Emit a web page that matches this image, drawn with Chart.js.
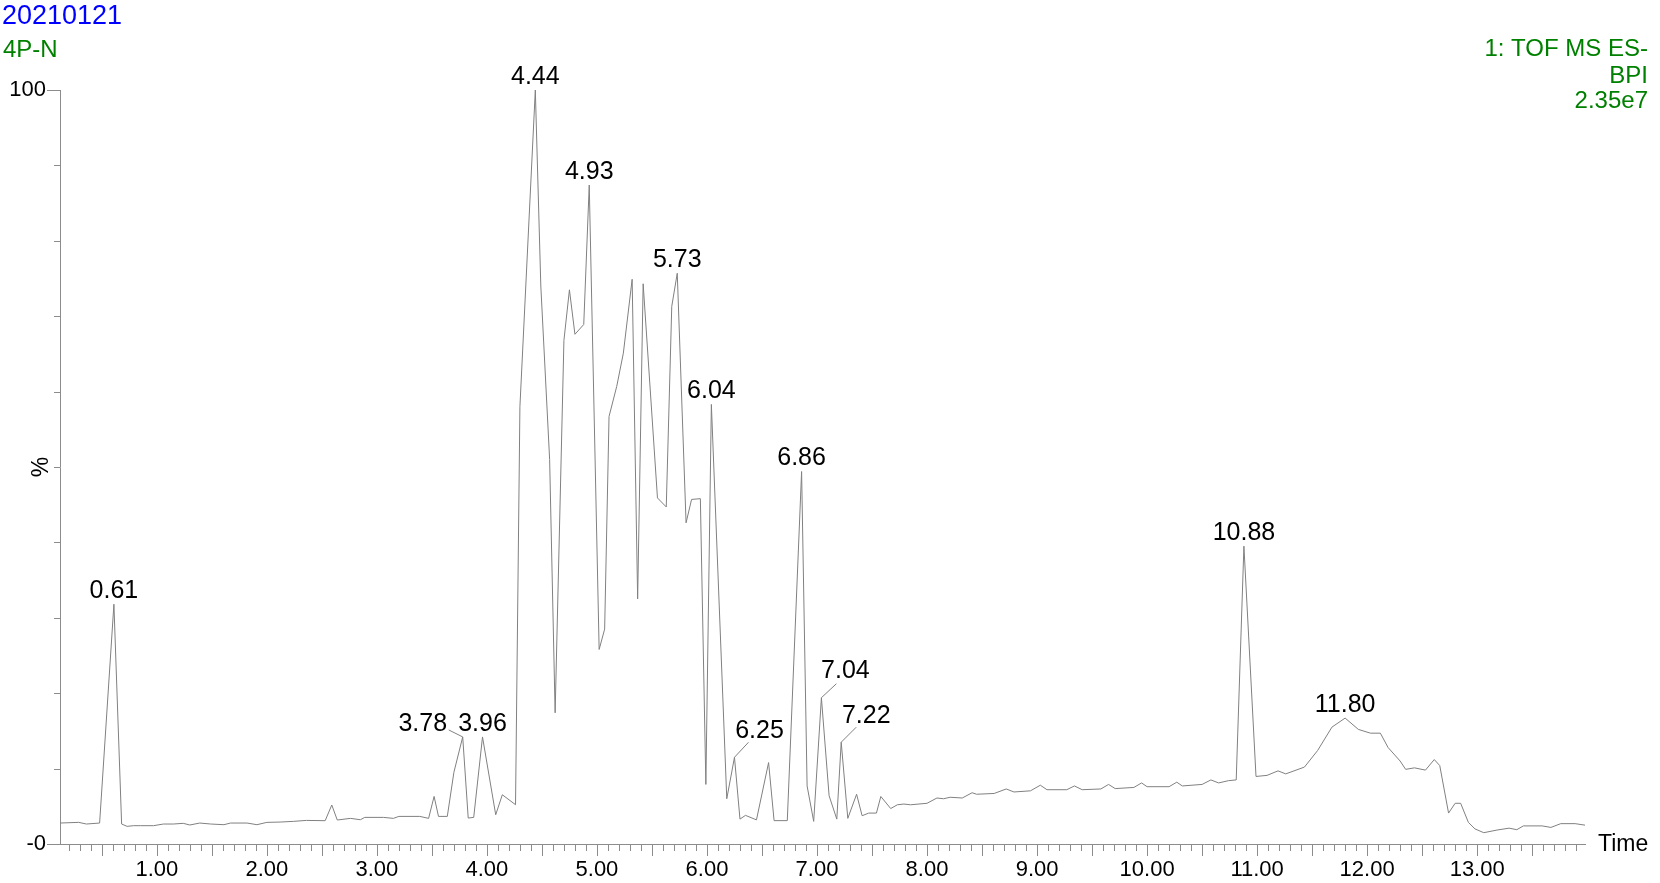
<!DOCTYPE html>
<html>
<head>
<meta charset="utf-8">
<script src="https://cdn.jsdelivr.net/npm/chart.js@4.4.1/dist/chart.umd.min.js"></script>
<style>
html,body{margin:0;padding:0;background:#fff;}
canvas{display:block;}
</style>
</head>
<body>
<canvas id="c" width="1660" height="883"></canvas>
<script>
// ---- data ----
const times = [0.12,0.29,0.36,0.48,0.61,0.68,0.73,0.79,0.85,0.97,1.06,1.15,1.24,1.30,1.39,1.49,1.61,1.67,1.82,1.91,2.00,2.12,2.24,2.36,2.53,2.59,2.64,2.76,2.85,2.89,3.06,3.15,3.20,3.39,3.47,3.52,3.56,3.64,3.70,3.78,3.83,3.88,3.96,4.08,4.14,4.26,4.30,4.44,4.49,4.57,4.62,4.70,4.75,4.80,4.88,4.93,5.02,5.07,5.11,5.18,5.24,5.32,5.37,5.42,5.55,5.63,5.68,5.73,5.81,5.86,5.94,5.99,6.04,6.18,6.25,6.30,6.35,6.45,6.56,6.61,6.73,6.86,6.91,6.97,7.04,7.11,7.18,7.22,7.28,7.36,7.41,7.47,7.54,7.58,7.67,7.73,7.79,7.85,8.00,8.09,8.15,8.21,8.32,8.41,8.45,8.61,8.72,8.79,8.94,9.03,9.09,9.27,9.34,9.41,9.58,9.65,9.71,9.88,9.95,10.00,10.20,10.27,10.32,10.50,10.58,10.65,10.74,10.81,10.88,10.99,11.09,11.19,11.26,11.43,11.55,11.68,11.80,11.92,12.03,12.12,12.19,12.30,12.35,12.43,12.53,12.61,12.66,12.74,12.80,12.85,12.92,12.98,13.06,13.18,13.29,13.36,13.42,13.59,13.67,13.76,13.89,13.98];
const intensity = [2.78,2.87,2.65,2.78,31.8,2.65,2.34,2.43,2.43,2.43,2.65,2.65,2.74,2.52,2.78,2.65,2.56,2.78,2.78,2.56,2.87,2.91,3.0,3.13,3.09,5.17,3.18,3.40,3.22,3.53,3.53,3.40,3.66,3.66,3.40,6.31,3.66,3.66,9.51,14.2,3.44,3.53,14.2,3.88,6.53,5.21,58,100,74,51,17.4,66.8,73.5,67.6,68.9,87.4,25.8,28.5,56.7,60.7,65.1,74.9,32.5,74.3,45.9,44.7,71.3,75.7,42.6,45.7,45.8,7.9,58.3,6.0,11.5,3.3,3.8,3.2,10.8,3.1,3.1,49.4,7.7,3.0,19.4,6.4,3.3,13.5,3.4,6.6,3.75,4.1,4.1,6.3,4.7,5.2,5.3,5.2,5.4,6.1,6.0,6.2,6.1,6.8,6.6,6.7,7.3,6.9,7.05,7.8,7.2,7.2,7.7,7.2,7.3,7.9,7.35,7.5,8.1,7.6,7.6,8.2,7.7,7.9,8.5,8.1,8.4,8.5,39.5,8.96,9.1,9.7,9.3,10.2,12.4,15.5,16.7,15.2,14.7,14.7,12.8,11.0,9.9,10.1,9.8,11.2,10.4,4.1,5.4,5.4,2.87,2.0,1.5,1.85,2.1,1.9,2.4,2.4,2.2,2.7,2.7,2.5];
const peakTimes = [0.61,3.78,3.96,4.44,4.93,5.73,6.04,6.25,6.86,7.04,7.22,10.88,11.80];
const peakLabels = ['0.61','3.78','3.96','4.44','4.93','5.73','6.04','6.25','6.86','7.04','7.22','10.88','11.80'];
const xTickValues = [1,2,3,4,5,6,7,8,9,10,11,12,13];
const yTickValues = [0,100];
const yTickLabels = ['-0','100'];
const headerLeft = ['20210121','4P-N'];
const headerRight = ['1: TOF MS ES-','BPI','2.35e7'];
const xAxisName = 'Time';
const yAxisName = '%';

// ---- layout / style ----
const FONT = '"Liberation Sans", Arial, Helvetica, sans-serif';
const TRACE = '#808080';
const AXIS = '#8c8c8c';
const labelLayout = {
  '3.78': {dx:-40, dy:-13, lead:[-14,-7]},
  '6.25': {dx:25, dy:-26, lead:[14,-15]},
  '7.04': {dx:24, dy:-27, lead:[15,-14]},
  '7.22': {dx:25, dy:-26, lead:[15,-15]}
};
const defaultLayout = {dx:0, dy:-13, lead:null};

const overlay = {
  id: 'overlay',
  afterDraw(chart) {
    const {ctx, chartArea: a} = chart;
    const x = chart.scales.x, y = chart.scales.y;
    ctx.save();
    // tick marks
    ctx.strokeStyle = AXIS;
    ctx.lineWidth = 1;
    ctx.beginPath();
    for (let k = Math.ceil(x.min * 10 - 1e-9); k <= Math.floor(x.max * 10 + 1e-9); k++) {
      const px = Math.round(x.getPixelForValue(k / 10)) + 0.5;
      const len = (k % 5 === 0) ? 11 : 6;
      ctx.moveTo(px, a.bottom + 1);
      ctx.lineTo(px, a.bottom + 1 + len);
    }
    for (let v = 0; v <= 100; v += 10) {
      const py = Math.round(y.getPixelForValue(v)) + 0.5;
      const len = yTickValues.includes(v) ? 13 : 6;
      ctx.moveTo(a.left - len, py);
      ctx.lineTo(a.left, py);
    }
    ctx.stroke();

    // peak labels
    ctx.font = '25px ' + FONT;
    ctx.textAlign = 'center';
    ctx.textBaseline = 'middle';
    peakTimes.forEach((t, i) => {
      let idx = 0, best = Infinity;
      times.forEach((tt, j) => { const d = Math.abs(tt - t); if (d < best) { best = d; idx = j; } });
      const px = x.getPixelForValue(times[idx]);
      const py = y.getPixelForValue(intensity[idx]);
      const lay = labelLayout[peakLabels[i]] || defaultLayout;
      if (lay.lead) {
        ctx.beginPath();
        ctx.strokeStyle = TRACE;
        ctx.moveTo(px, py);
        ctx.lineTo(px + lay.lead[0], py + lay.lead[1]);
        ctx.stroke();
      }
      ctx.fillStyle = '#000';
      ctx.fillText(peakLabels[i], px + lay.dx, py + lay.dy);
    });

    // axis name "Time"
    ctx.font = '23px ' + FONT;
    ctx.textAlign = 'left';
    ctx.fillStyle = '#000';
    ctx.fillText(xAxisName, a.right + 13, a.bottom + 1);

    // headers
    ctx.textAlign = 'left';
    ctx.font = '27px ' + FONT;
    ctx.fillStyle = '#0000ff';
    ctx.fillText(headerLeft[0], 2, 17);
    ctx.font = '24px ' + FONT;
    ctx.fillStyle = '#008000';
    ctx.fillText(headerLeft[1], 3, 50);
    ctx.textAlign = 'right';
    const rightY = [49, 76, 101];
    headerRight.forEach((s, i) => ctx.fillText(s, 1648, rightY[i]));
    ctx.restore();
  }
};

new Chart(document.getElementById('c'), {
  type: 'line',
  data: {
    datasets: [{
      data: times.map((t, i) => ({x: t, y: intensity[i]})),
      borderColor: TRACE,
      borderWidth: 1,
      pointRadius: 0,
      tension: 0,
      fill: false,
      borderJoinStyle: 'bevel'
    }]
  },
  options: {
    responsive: false,
    animation: false,
    devicePixelRatio: 1,
    layout: {padding: {left: 0, right: 75, top: 90, bottom: 0}},
    plugins: {legend: {display: false}, tooltip: {enabled: false}},
    scales: {
      x: {
        type: 'linear',
        min: 0.12,
        max: 13.98,
        afterFit(s) { s.height = 39; },
        afterBuildTicks(s) { s.ticks = xTickValues.map(v => ({value: v})); },
        grid: {display: false, drawTicks: false},
        border: {display: true, color: AXIS, width: 1},
        ticks: {
          autoSkip: false,
          maxRotation: 0,
          padding: 13,
          color: '#000',
          font: {family: FONT, size: 22},
          callback: v => Number(v).toFixed(2)
        }
      },
      y: {
        min: 0,
        max: 100,
        afterFit(s) { s.width = 60; },
        afterBuildTicks(s) { s.ticks = yTickValues.map(v => ({value: v})); },
        grid: {display: false, drawTicks: false},
        border: {display: true, color: AXIS, width: 1},
        title: {display: true, text: yAxisName, color: '#000', font: {family: FONT, size: 23}, padding: {top: 28, bottom: 0}},
        ticks: {
          autoSkip: false,
          padding: 14,
          color: '#000',
          font: {family: FONT, size: 22},
          callback: v => yTickLabels[yTickValues.indexOf(v)]
        }
      }
    }
  },
  plugins: [overlay]
});
</script>
</body>
</html>
